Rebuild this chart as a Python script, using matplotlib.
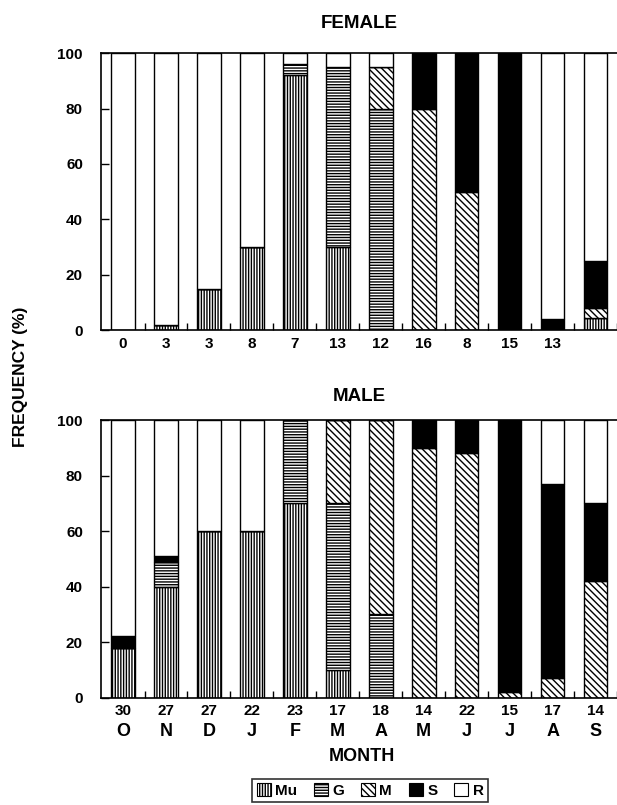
import numpy as np
import matplotlib.pyplot as plt
from matplotlib.patches import Patch

plt.rcParams['font.family'] = ['Liberation Sans', 'DejaVu Sans']
plt.rcParams['font.weight'] = 'bold'
plt.rcParams['hatch.linewidth'] = 1.0

# Months (October to September) and sample sizes.
months = ['O', 'N', 'D', 'J', 'F', 'M', 'A', 'M', 'J', 'J', 'A', 'S']
female_n = ['0', '3', '3', '8', '7', '13', '12', '16', '8', '15', '13', '']
male_n = ['30', '27', '27', '22', '23', '17', '18', '14', '22', '15', '17', '14']

# Female frequencies (%), stacked Mu, G, M, S, R.
f_mu = [0, 2, 15, 30, 92, 30, 0, 0, 0, 0, 0, 4.5]
f_g = [0, 0, 0, 0, 4, 65, 80, 0, 0, 0, 0, 0]
f_m = [0, 0, 0, 0, 0, 0, 15, 80, 50, 0, 0, 3.5]
f_s = [0, 0, 0, 0, 0, 0, 0, 20, 50, 100, 4, 17]
f_r = [100, 98, 85, 70, 4, 5, 5, 0, 0, 0, 96, 75]

# Male frequencies (%).
m_mu = [18, 40, 60, 60, 70, 10, 0, 0, 0, 0, 0, 0]
m_g = [0, 9, 0, 0, 30, 60, 30, 0, 0, 0, 0, 0]
m_m = [0, 0, 0, 0, 0, 30, 70, 90, 88, 2, 7, 42]
m_s = [4, 2, 0, 0, 0, 0, 0, 10, 12, 98, 70, 28]
m_r = [78, 49, 40, 40, 0, 0, 0, 0, 0, 0, 23, 30]

stages = ['Mu', 'G', 'M', 'S', 'R']
styles = {
    'Mu': dict(facecolor='white', hatch='||||||'),
    'G': dict(facecolor='white', hatch='------'),
    'M': dict(facecolor='white', hatch='\\\\\\\\\\'),
    'S': dict(facecolor='black', hatch=None),
    'R': dict(facecolor='white', hatch=None),
}

fig = plt.figure(figsize=(6.17, 8.05), dpi=100)
ax1 = fig.add_axes([0.1637, 0.590, 0.8363, 0.344])
ax2 = fig.add_axes([0.1637, 0.1335, 0.8363, 0.3447])

x = np.arange(len(months))


def draw(ax, series, title, pad):
    bottom = np.zeros(len(months))
    for name, vals in zip(stages, series):
        vals = np.array(vals, dtype=float)
        ax.bar(x, vals, 0.55, bottom=bottom, edgecolor='black',
               linewidth=1.0, **styles[name])
        bottom += vals
    ax.set_xlim(-0.513, 11.33)
    ax.set_ylim(0, 100)
    ax.set_yticks([0, 20, 40, 60, 80, 100])
    ax.tick_params(axis='y', direction='in', length=5.5, width=1.0,
                   labelsize=11, pad=13)
    ax.set_xticks(x + 0.5, minor=True)
    ax.tick_params(axis='x', which='minor', direction='in', length=5, width=1.0)
    ax.spines['right'].set_visible(False)
    for sp in ['left', 'bottom', 'top']:
        ax.spines[sp].set_linewidth(1.2)
    ax.set_title(title, fontsize=13.5, fontweight='bold', pad=pad)


draw(ax1, [f_mu, f_g, f_m, f_s, f_r], 'FEMALE', 18)
draw(ax2, [m_mu, m_g, m_m, m_s, m_r], 'MALE', 14)

ax1.set_xticks(x)
ax1.set_xticklabels(female_n, fontsize=11)
ax1.tick_params(axis='x', which='major', length=0, pad=5)

ax2.set_xticks(x)
ax2.set_xticklabels(male_n, fontsize=11)
ax2.tick_params(axis='x', which='major', length=0, pad=5)

sec = ax2.secondary_xaxis('bottom')
sec.set_xticks(x)
sec.set_xticklabels(months, fontsize=13)
sec.tick_params(length=0, pad=18)
sec.spines['bottom'].set_visible(False)

fig.text(0.034, 0.532, 'FREQUENCY (%)', rotation=90, ha='center', va='center',
         fontsize=12.5, fontweight='bold')
fig.text(0.587, 0.060, 'MONTH', ha='center', va='center',
         fontsize=13, fontweight='bold')

handles = [Patch(edgecolor='black', linewidth=0.8, **styles[s]) for s in stages]
leg = fig.legend(handles, stages, loc='center', bbox_to_anchor=(0.6, 0.018),
                 ncol=5, frameon=True, fancybox=False, fontsize=11,
                 handlelength=0.9, handleheight=0.9, handletextpad=0.3,
                 columnspacing=1.1, borderpad=0.3)
leg.get_frame().set_edgecolor('black')
leg.get_frame().set_linewidth(1.2)

fig.savefig('out.png', dpi=100)
